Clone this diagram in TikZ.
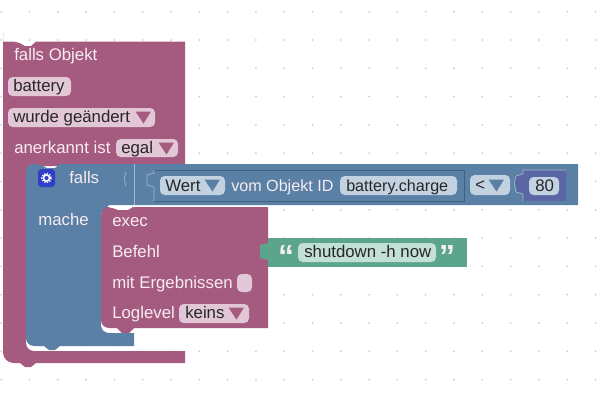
\documentclass[tikz,border=0pt]{standalone}
\usepackage{fontspec}
\setmainfont{Liberation Sans}
\definecolor{objpurple}{HTML}{A55B80}
\definecolor{logicblue}{HTML}{5B80A5}
\definecolor{textgreen}{HTML}{5BA58C}
\definecolor{mathblue}{HTML}{5B67A5}
\definecolor{purplefield}{HTML}{E2C8D6}
\definecolor{bluefield}{HTML}{C3D2E1}
\definecolor{greenfield}{HTML}{C3E0D6}
\definecolor{labelwhite}{HTML}{F6ECF1}
\definecolor{griddot}{HTML}{CCCCCC}
\definecolor{iconblue}{HTML}{2F3FC8}
\tikzset{
  blocklabel/.style = {anchor=base west, inner sep=0pt, text=labelwhite, font=\fontsize{12.6}{14}\selectfont},
  fieldtext/.style = {anchor=base west, inner sep=0pt, text=black!85, font=\fontsize{12.6}{14}\selectfont},
  quotemark/.style = {anchor=center, inner sep=0pt, text=labelwhite, font=\fontsize{24}{24}\bfseries\selectfont},
  fieldbox/.style = {rounded corners=3.5pt},
  seamblue/.style = {draw=logicblue!55!white, line width=0.5pt},
  seamdark/.style = {draw=logicblue!75!black, line width=0.5pt}
}
\newcommand{\dropmark}[3]{\fill[#3] (#1-7.5,#2-5.5) -- (#1+8,#2-5.5) -- (#1+0.5,#2+6.5) -- cycle;}
\begin{document}
\begin{tikzpicture}[x=0.75pt, y=-0.75pt]
\useasboundingbox (0,0) rectangle (604,400);
\fill[white] (0,0) rectangle (604,400);
\foreach \i in {0,...,21}
  \foreach \j in {0,...,13}
    \fill[griddot] ({1.2+28.3*\i},{11.7+28.3*\j}) circle (1);

\fill[objpurple] [rounded corners=6pt] (3,41.5) -- (20,41.5) [sharp corners] -- (25,46) -- (31,46) -- (36,41.5) -- (185,41.5)
  -- (185,166) [rounded corners=6pt] -- (26,166) -- (26,351) [sharp corners] -- (185,351) -- (185,363) -- (36,363) -- (31,367) -- (25,367) -- (20,363)
  [rounded corners=8pt] -- (3,363) -- (3,41.5) [sharp corners] -- cycle;

\fill[logicblue] [rounded corners=6pt] (26,180) -- (26,164) -- (42,164) [sharp corners] -- (47,168) -- (55,168) -- (60,164) -- (578,164) -- (578,205)
  -- (109,205) -- (101,213) [rounded corners=6pt] -- (101,333) -- (120,333) [sharp corners] -- (134,333) -- (134,346) -- (60,346) -- (55,350) -- (49,350) -- (44,346)
  [rounded corners=6pt] -- (26,346) -- (26,180) [sharp corners] -- cycle;

\fill[objpurple] [rounded corners=6pt] (101,225) -- (101,207) -- (113,207) [sharp corners] -- (118,210) -- (128,210) -- (133,207) -- (268,207) -- (268,328) -- (134,328) -- (129,333) -- (122,333) -- (117,328)
  [rounded corners=6pt] -- (101,328) -- (101,225) [sharp corners] -- cycle;

\fill[mathblue] (523,170) rectangle (566,201);
\fill[mathblue] (523,174) -- (515,176) -- (515,184) -- (517,186) -- (517,192) -- (523,194) -- cycle;
\draw[seamblue] (523,201) -- (523,194) -- (516,192) -- (514,184) -- (516,176) -- (523,174) -- (523,170) -- (566,170);

\draw[seamdark] (154,170) -- (464,170) -- (464,201) -- (154,201);
\draw[seamblue] (154,201) -- (154,187) -- (147,185) -- (147,175) -- (154,173) -- (154,170);
\draw[seamblue] (134.5,164) -- (134.5,205);
\draw[seamblue] (126,172) -- (124,179) -- (126,186);

\fill[textgreen] (268,238) rectangle (467,267);
\fill[textgreen] (268,243) -- (260,245) -- (260,258) -- (268,260) -- cycle;

\fill[purplefield, fieldbox] (8,77) rectangle (71,96);
\fill[purplefield, fieldbox] (8,108) rectangle (155,127);
\fill[purplefield, fieldbox] (116,139) rectangle (178,157);
\fill[purplefield, fieldbox] (237,274) rectangle (252,292);
\fill[purplefield, fieldbox] (179,304) rectangle (249,323);
\fill[bluefield, fieldbox] (160,176) rectangle (225,195);
\fill[bluefield, fieldbox] (340,176) rectangle (457,195);
\fill[bluefield, fieldbox] (470,175) rectangle (510,195);
\fill[bluefield, fieldbox] (529,177) rectangle (559,195);
\fill[greenfield, fieldbox] (298,243) rectangle (436,262);

\dropmark{143}{117}{objpurple}
\dropmark{166}{148}{objpurple}
\dropmark{236}{313}{objpurple}
\dropmark{212}{185}{logicblue}
\dropmark{496}{185}{logicblue}

\fill[iconblue, rounded corners=2.5pt] (38,169) rectangle (55,187);
\draw[white, line width=1.1pt] (46.5,178) circle (3);
\draw[white, line width=1.1pt, dash pattern=on 1pt off 1pt] (46.5,178) circle (4.6);

\node[blocklabel] (fallsobjekt) at (14,60.5) {falls Objekt};
\node[fieldtext] (battery) at (13,91.5) {battery};
\node[fieldtext] (geaendert) at (13,122.5) {wurde geändert};
\node[blocklabel] (anerkannt) at (14,153) {anerkannt ist};
\node[fieldtext] (egal) at (121,153) {egal};
\node[blocklabel] (falls) at (69,183) {falls};
\node[blocklabel] (mache) at (38,225) {mache};
\node[fieldtext] (wert) at (165,191) {Wert};
\node[blocklabel, font=\fontsize{12.1}{14}\selectfont] (vomobjekt) at (231,191) {vom Objekt ID};
\node[fieldtext, font=\fontsize{12.1}{14}\selectfont] (charge) at (346,191) {battery.charge};
\node[fieldtext] (kleiner) at (475,190) {<};
\node[fieldtext] (achtzig) at (535,191) {80};
\node[blocklabel] (exec) at (112,226.5) {exec};
\node[blocklabel] (befehl) at (112,257.5) {Befehl};
\node[blocklabel] (ergebnisse) at (112,288) {mit Ergebnissen};
\node[blocklabel] (loglevel) at (112,318) {Loglevel};
\node[fieldtext] (keins) at (185,318) {keins};
\node[fieldtext] (befehltext) at (304,257.5) {shutdown -h now};
\node[quotemark] (quoteauf) at (286,256) {“};
\node[quotemark] (quotezu) at (447,256) {”};
\end{tikzpicture}
\end{document}
